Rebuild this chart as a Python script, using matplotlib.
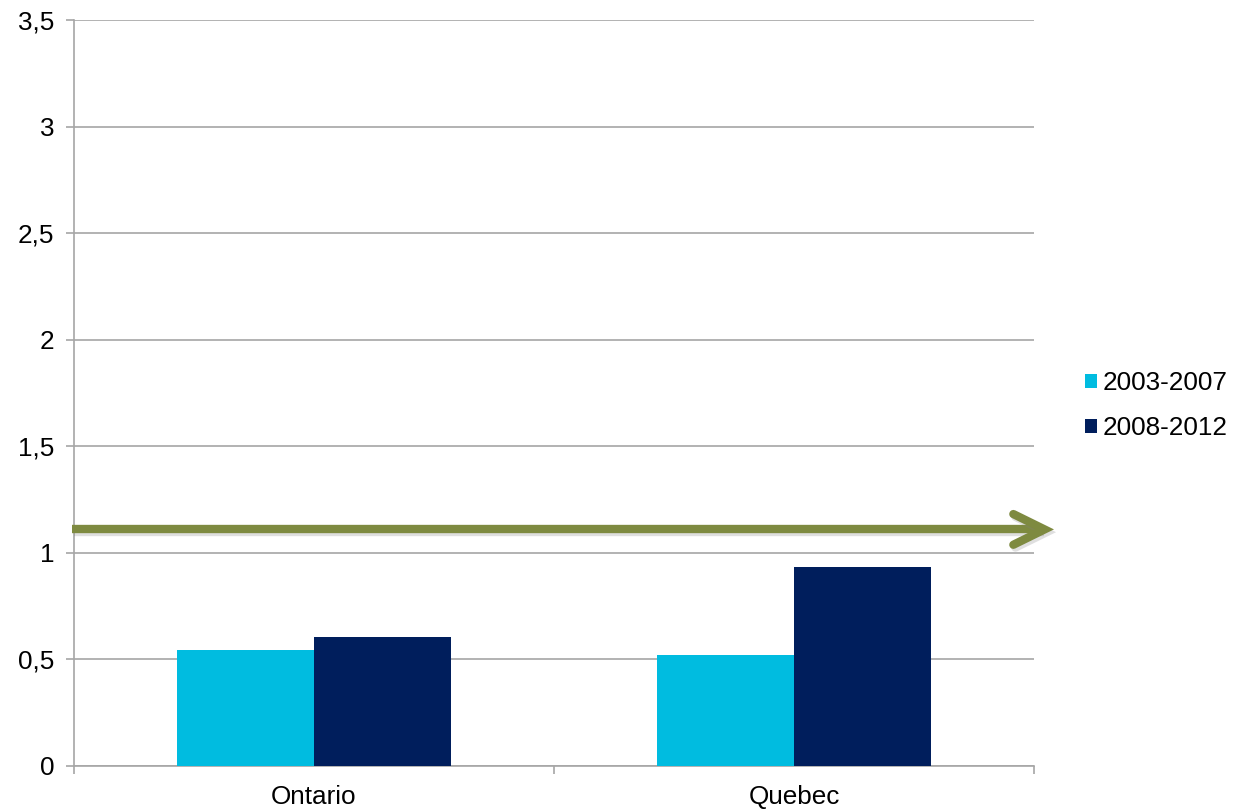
import matplotlib.pyplot as plt
import matplotlib.patheffects as pe
import numpy as np
from matplotlib.ticker import FuncFormatter, FixedLocator

plt.rcParams['font.family'] = ['Liberation Sans', 'DejaVu Sans']

regions = ["Ontario", "Quebec"]
series = ["2003-2007", "2008-2012"]
values_2003 = [0.545, 0.52]
values_2008 = [0.605, 0.935]
colors = ["#00BCE0", "#001E5C"]
arrow_level = 1.11

fig = plt.figure(figsize=(12.33, 8.11), dpi=100)
ax = fig.add_axes([0.060, 0.0555, 0.7786, 0.9198])

x = np.arange(len(regions))
width = 0.285
ax.bar(x - width / 2, values_2003, width, color=colors[0], label=series[0], zorder=3)
ax.bar(x + width / 2, values_2008, width, color=colors[1], label=series[1], zorder=3)

ax.set_xlim(-0.5, 1.5)
ax.set_ylim(0, 3.5)
ax.set_yticks(np.arange(0, 3.51, 0.5))
ax.yaxis.set_major_formatter(FuncFormatter(lambda v, p: f"{v:g}".replace(".", ",")))
ax.grid(axis='y', color='#A6A6A6', linewidth=1.2, zorder=0)

ax.set_xticks(x)
ax.set_xticklabels(regions)
ax.xaxis.set_minor_locator(FixedLocator([-0.5, 0.5, 1.5]))
ax.tick_params(axis='x', which='major', length=0, pad=14, labelsize=18.8)
ax.tick_params(axis='x', which='minor', length=6, color='#A6A6A6', width=1.2)
ax.tick_params(axis='y', length=6, color='#A6A6A6', width=1.2, labelsize=18.8, pad=8)

for s in ['top', 'right']:
    ax.spines[s].set_visible(False)
for s in ['left', 'bottom']:
    ax.spines[s].set_color('#A6A6A6')
    ax.spines[s].set_linewidth(1.2)

# arrow with chevron head
olive = '#7E8A40'
shadow = [pe.SimpleLineShadow(offset=(1.5, -2), alpha=0.25, shadow_color='gray'), pe.Normal()]
tip = 1.522
ax.plot([-0.505, tip - 0.005], [arrow_level, arrow_level], color=olive, lw=6,
        solid_capstyle='butt', clip_on=False, zorder=5, path_effects=shadow)
ax.plot([tip - 0.065, tip, tip - 0.065], [arrow_level + 0.072, arrow_level, arrow_level - 0.072],
        color=olive, lw=6, solid_capstyle='round', solid_joinstyle='miter',
        clip_on=False, zorder=5, path_effects=shadow)

leg = ax.legend(loc='center left', bbox_to_anchor=(1.053, 0.483), frameon=False,
                fontsize=18.8, handlelength=0.48, handleheight=0.48, handletextpad=0.2,
                labelspacing=0.8, borderpad=0, borderaxespad=0)

fig.savefig("out.png", dpi=100)
